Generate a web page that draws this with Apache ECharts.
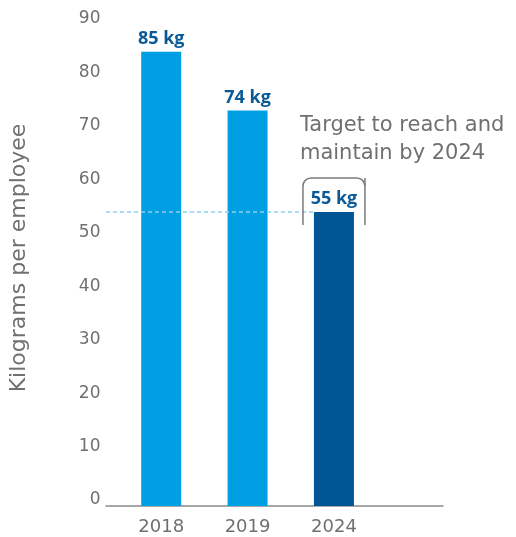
<!DOCTYPE html>
<html>
<head>
<meta charset="utf-8">
<script src="https://cdn.jsdelivr.net/npm/echarts@6/dist/echarts.min.js"></script>
<style>
html,body{margin:0;padding:0;background:#fff;}
#chart{width:516px;height:537px;}
</style>
</head>
<body>
<div id="chart"></div>
<script>
// ---- data ----
const categories = ['2018', '2019', '2024', ''];
const values = [85, 74, 55, null];
const barColors = ['#009fe3', '#009fe3', '#005595', '#009fe3'];
const yTicks = [0, 10, 20, 30, 40, 50, 60, 70, 80, 90];
const yAxisTitle = 'Kilograms per employee';
const targetIndex = 2;
const targetNote = 'Target to reach and\nmaintain by 2024';

// ---- layout / style ----
const FONT = '"DejaVu Sans", sans-serif';
const WEIGHT = 'normal';
const GRAY = '#707070';
const AXIS_LEFT = 106;
const BAR_LEFT = 115.5;
const TOP = 25;
const PLOT_H = 481;

const chart = echarts.init(document.getElementById('chart'), null, {renderer: 'canvas'});

const option = {
  animation: false,
  grid: [
    {left: BAR_LEFT, top: TOP, width: 348, height: PLOT_H},
    {left: AXIS_LEFT, top: TOP, width: 337, height: PLOT_H}
  ],
  xAxis: [
    {
      type: 'category', gridIndex: 0, data: categories,
      axisLine: {show: false}, axisTick: {show: false},
      axisLabel: {color: GRAY, fontFamily: FONT, fontWeight: WEIGHT, fontSize: 18, margin: 12}
    },
    {
      type: 'value', gridIndex: 1, min: 0, max: 1,
      axisLine: {show: true, lineStyle: {color: '#8a8a8a', width: 1.5}},
      axisTick: {show: false}, axisLabel: {show: false}, splitLine: {show: false}
    }
  ],
  yAxis: [
    {
      type: 'value', gridIndex: 0, min: yTicks[0], max: yTicks[yTicks.length - 1], interval: 10,
      axisLine: {show: false}, axisTick: {show: false}, splitLine: {show: false},
      axisLabel: {color: GRAY, fontFamily: FONT, fontWeight: WEIGHT, fontSize: 17, margin: 17.5,
                  verticalAlign: 'bottom', lineHeight: 12},
      name: yAxisTitle, nameLocation: 'middle', nameGap: 88,
      nameTextStyle: {color: GRAY, fontFamily: FONT, fontWeight: WEIGHT, fontSize: 22, padding: [0, 0, 0, 15]}
    },
    {type: 'value', gridIndex: 1, min: 0, max: 1, show: false}
  ],
  series: [
    {
      type: 'bar', xAxisIndex: 0, yAxisIndex: 0, barWidth: 40,
      data: values.map((v, i) => ({value: v, itemStyle: {color: barColors[i]}})),
      label: {
        show: true, position: 'top', distance: 4,
        formatter: p => p.value == null ? '' : p.value + ' kg',
        color: '#0a5a98', fontFamily: '"Open Sans", sans-serif', fontWeight: 'bold', fontSize: 18
      },
      z: 3
    },
    {
      type: 'custom', xAxisIndex: 0, yAxisIndex: 0, clip: false, z: 4,
      data: [[targetIndex, values[targetIndex]]],
      renderItem: function (params, api) {
        const p = api.coord([api.value(0), api.value(1)]);
        const l = p[0] - 31, rr = p[0] + 31, t = p[1] - 34, b = p[1] + 13, r = 8;
        const stroke = {stroke: '#7a7a7a', lineWidth: 1.5, fill: null};
        return {
          type: 'group',
          children: [
            {type: 'line', shape: {x1: AXIS_LEFT, y1: p[1], x2: p[0] - 20, y2: p[1]},
             style: {stroke: '#8fd0ee', lineWidth: 1.5, lineDash: [4, 3]}},
            {type: 'line', shape: {x1: l, y1: b, x2: l, y2: t + r}, style: stroke},
            {type: 'arc', shape: {cx: l + r, cy: t + r, r: r, startAngle: Math.PI, endAngle: Math.PI * 1.5}, style: stroke},
            {type: 'line', shape: {x1: l + r, y1: t, x2: rr - r, y2: t}, style: stroke},
            {type: 'arc', shape: {cx: rr - r, cy: t + r, r: r, startAngle: Math.PI * 1.5, endAngle: Math.PI * 2}, style: stroke},
            {type: 'line', shape: {x1: rr, y1: t, x2: rr, y2: b}, style: stroke},
            {type: 'text', style: {text: targetNote, x: p[0] - 34, y: p[1] - 101,
              fill: GRAY, fontFamily: FONT, fontWeight: WEIGHT, fontSize: 21, lineHeight: 28, verticalAlign: 'top', align: 'left'}}
          ]
        };
      }
    }
  ]
};
chart.setOption(option);
</script>
</body>
</html>
